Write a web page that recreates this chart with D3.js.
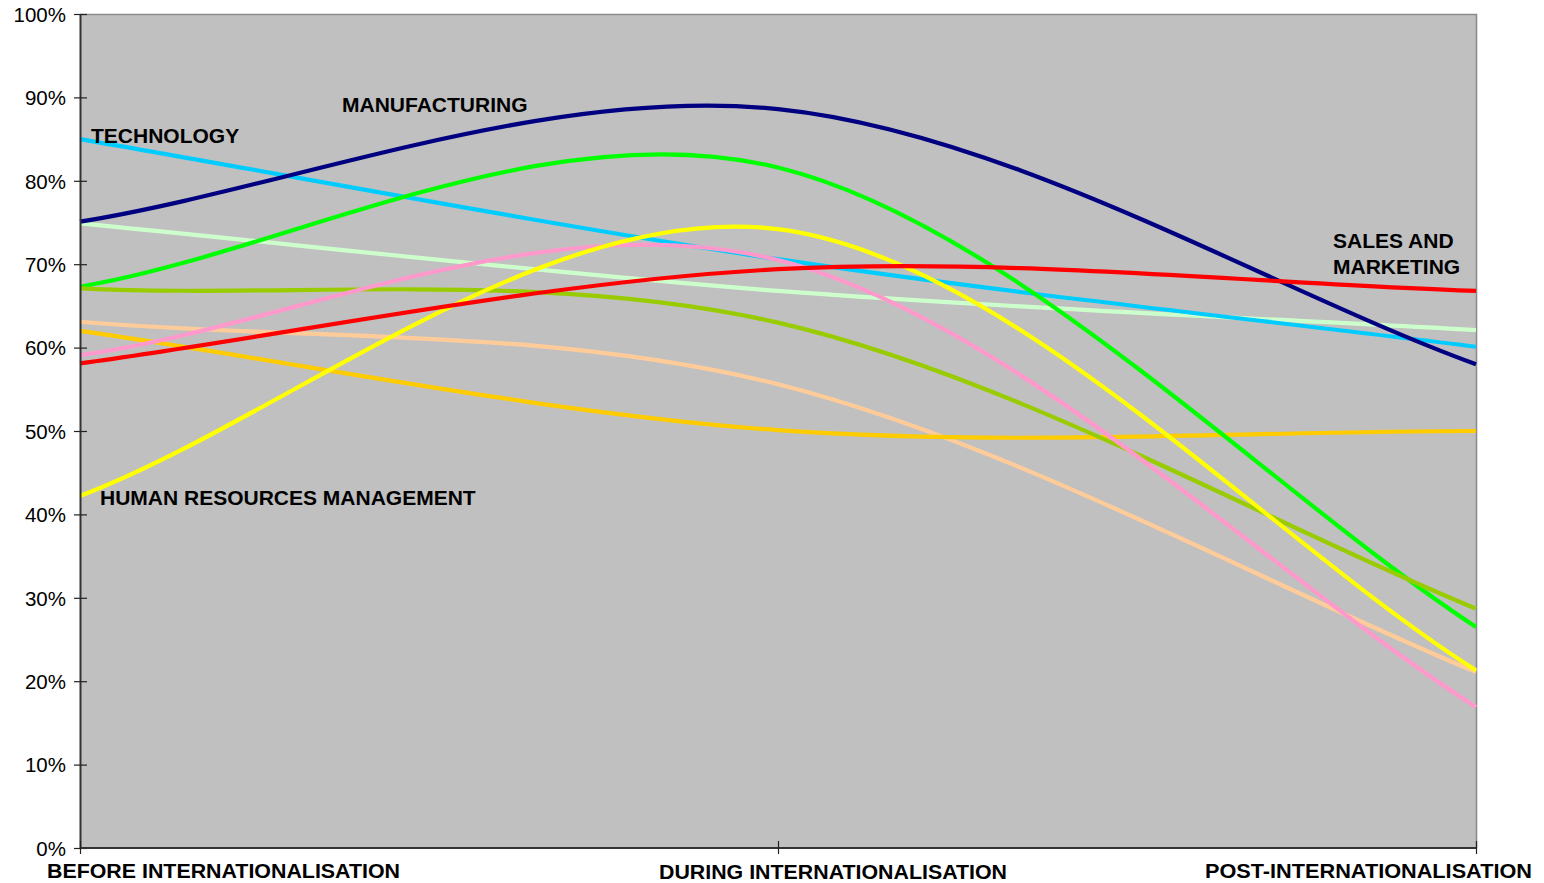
<!DOCTYPE html>
<html>
<head>
<meta charset="utf-8">
<script src="https://cdn.jsdelivr.net/npm/d3@7"></script>
<style>
  html, body { margin: 0; padding: 0; background: #ffffff; }
  svg { display: block; font-family: "Liberation Sans", Arial, sans-serif; }
</style>
</head>
<body>
<svg id="chart" width="1544" height="883"></svg>
<script>
// ---- data ----
const categories = ["BEFORE INTERNATIONALISATION", "DURING INTERNATIONALISATION", "POST-INTERNATIONALISATION"];
const yTicks = [0, 0.1, 0.2, 0.3, 0.4, 0.5, 0.6, 0.7, 0.8, 0.9, 1.0];

const seriesNames = ["peach", "orange", "paleGreen", "technology", "green", "olive", "pink", "humanResources", "manufacturing", "salesMarketing"];
const peach          = [0.631, 0.556, 0.211];
const orange         = [0.620, 0.501, 0.500];
const paleGreen      = [0.749, 0.668, 0.621];
const technology     = [0.850, 0.706, 0.601];
const green          = [0.673, 0.816, 0.265];
const olive          = [0.671, 0.630, 0.287];
const pink           = [0.591, 0.705, 0.169];
const humanResources = [0.422, 0.742, 0.213];
const manufacturing  = [0.751, 0.886, 0.580];
const salesMarketing = [0.581, 0.694, 0.668];
const seriesValues = [peach, orange, paleGreen, technology, green, olive, pink, humanResources, manufacturing, salesMarketing];
const seriesColors = ["#FFCC99", "#FFCC00", "#CCFFCC", "#00CCFF", "#00FF00", "#99CC00", "#FF99CC", "#FFFF00", "#000080", "#FF0000"];

const annotations = [
  { text: "TECHNOLOGY", x: 91, y: 143 },
  { text: "MANUFACTURING", x: 342, y: 112 },
  { text: "SALES AND", x: 1333, y: 248 },
  { text: "MARKETING", x: 1333, y: 274 },
  { text: "HUMAN RESOURCES MANAGEMENT", x: 100, y: 505 }
];

// ---- smoothed curve (spreadsheet-style Bezier smoothing) ----
function SmoothCurve(context) { this._context = context; }
SmoothCurve.prototype = {
  areaStart() { this._line = 0; },
  areaEnd() { this._line = NaN; },
  lineStart() { this._pts = []; },
  point(px, py) { this._pts.push([+px, +py]); },
  lineEnd() {
    const p = this._pts, n = p.length, c = this._context;
    if (!n) return;
    const E = 0.3, F = 1 / 6;
    c.moveTo(p[0][0], p[0][1]);
    if (n === 2) { c.lineTo(p[1][0], p[1][1]); return; }
    for (let i = 0; i < n - 1; i++) {
      const a = p[i], b = p[i + 1];
      let c1, c2;
      if (i === 0) c1 = [a[0] + (b[0] - a[0]) * E, a[1] + (b[1] - a[1]) * E];
      else { const q = p[i - 1]; c1 = [a[0] + (b[0] - q[0]) * F, a[1] + (b[1] - q[1]) * F]; }
      if (i === n - 2) c2 = [b[0] - (b[0] - a[0]) * E, b[1] - (b[1] - a[1]) * E];
      else { const r = p[i + 2]; c2 = [b[0] - (r[0] - a[0]) * F, b[1] - (r[1] - a[1]) * F]; }
      c.bezierCurveTo(c1[0], c1[1], c2[0], c2[1], b[0], b[1]);
    }
  }
};
const smoothCurve = ctx => new SmoothCurve(ctx);

// ---- layout ----
const pLeft = 80, pRight = 1476, pTop = 14, pBottom = 848;
const svg = d3.select("#chart");

const x = d3.scalePoint().domain(categories).range([pLeft, pRight]);
const y = d3.scaleLinear().domain([0, 1]).range([pBottom, pTop]);

// plot background
svg.append("rect")
  .attr("x", pLeft).attr("y", pTop)
  .attr("width", pRight - pLeft).attr("height", pBottom - pTop)
  .attr("fill", "#C0C0C0");

// top & right border
svg.append("path")
  .attr("d", `M${pLeft},${pTop + 0.5}H${pRight + 0.5}V${pBottom}`)
  .attr("fill", "none").attr("stroke", "#8C8C8C").attr("stroke-width", 1.6);

// lines
const line = d3.line()
  .x((d, i) => x(categories[i]))
  .y(d => y(d))
  .curve(smoothCurve);

svg.append("g").selectAll("path")
  .data(seriesValues)
  .join("path")
  .attr("d", d => line(d))
  .attr("fill", "none")
  .attr("stroke", (d, i) => seriesColors[i])
  .attr("stroke-width", 4.2)
  .attr("stroke-linejoin", "round");

// y axis
const yAxis = d3.axisLeft(y)
  .tickValues(yTicks)
  .tickFormat(d3.format(".0%"))
  .tickSizeInner(6).tickSizeOuter(0).tickPadding(9);
const gy = svg.append("g").attr("transform", `translate(${pLeft},0)`).call(yAxis);
gy.select(".domain").attr("stroke", "#333").attr("stroke-width", 2);
gy.selectAll(".tick line").attr("stroke", "#222").attr("stroke-width", 1.2)
  .attr("x1", 7).attr("x2", -6);
gy.selectAll(".tick text")
  .attr("font-size", "20.5px").attr("fill", "#000")
  .attr("font-family", "'Liberation Sans', Arial, sans-serif")
  .attr("x", -14).attr("dy", "0.36em");

// x axis
const xAxis = d3.axisBottom(x).tickSizeInner(6).tickSizeOuter(0).tickFormat("");
const gx = svg.append("g").attr("transform", `translate(0,${pBottom})`).call(xAxis);
gx.select(".domain").attr("stroke", "#333").attr("stroke-width", 2)
  .attr("d", `M${pLeft},0H${pRight}`);
gx.selectAll(".tick line").attr("stroke", "#222").attr("stroke-width", 1.2)
  .attr("y1", -7).attr("y2", 6);

// category labels (positioned as in the original)
const catLabelPos = [
  { x: 47, y: 877.5, w: 353 },
  { x: 659, y: 879, w: 348 },
  { x: 1205, y: 878, w: 327 }
];
svg.append("g").selectAll("text")
  .data(categories)
  .join("text")
  .attr("x", (d, i) => catLabelPos[i].x)
  .attr("y", (d, i) => catLabelPos[i].y)
  .attr("textLength", (d, i) => catLabelPos[i].w)
  .attr("lengthAdjust", "spacingAndGlyphs")
  .attr("font-size", "21px").attr("font-weight", "bold").attr("fill", "#000")
  .text(d => d);

// annotations
svg.append("g").selectAll("text")
  .data(annotations)
  .join("text")
  .attr("x", d => d.x).attr("y", d => d.y)
  .attr("font-size", "21px").attr("font-weight", "bold").attr("fill", "#000")
  .text(d => d.text);
</script>
</body>
</html>
